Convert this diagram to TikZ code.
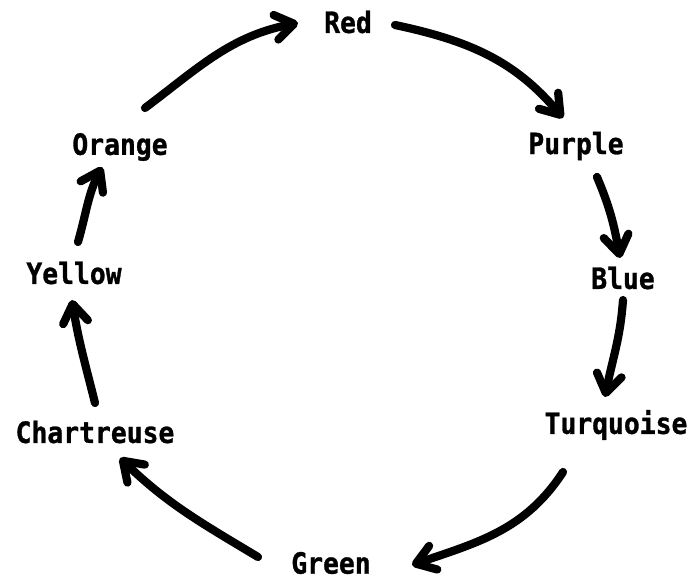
\documentclass[tikz,border=0pt]{standalone}
\usepackage{fontspec}
\newfontfamily\huefont[FakeStretch=0.9, BoldFeatures={FakeBold=1}]{DejaVu Sans Mono}
\usetikzlibrary{arrows.meta}

\begin{document}
\begin{tikzpicture}[
		x={(0.03cm,0cm)},
		y={(0cm,0.03cm)},
		hue/.style={inner sep=0pt, font=\huefont\bfseries\fontsize{25}{30}\selectfont},
		flow/.style={line width=7pt, line cap=round, -{Straight Barb[length=5.5mm, width=7.5mm, round]}}
	]

		\useasboundingbox (0,0) rectangle (688,581);

		% colour names round the wheel
		\node[hue] (red)        at (348,559) {Red};
		\node[hue] (purple)     at (576,435) {Purple};
		\node[hue] (blue)       at (623,303) {Blue};
		\node[hue] (turquoise)  at (616,156) {Turquoise};
		\node[hue] (green)      at (331,18)  {Green};
		\node[hue] (chartreuse) at (95,149)  {Chartreuse};
		\node[hue] (yellow)     at (74,308)  {Yellow};
		\node[hue] (orange)     at (120,434) {Orange};

		% arrows, clockwise
		\draw[flow] ([shift={(25,39)}]orange.center) to[out=37, in=191] ([shift={(-50,-1)}]red.center);
		\draw[flow] ([shift={(47,-3)}]red.center) to[out=-12, in=130] ([shift={(-13,28)}]purple.center);
		\draw[flow] ([shift={(21,-31)}]purple.center) to[out=-67, in=100] ([shift={(-3,20)}]blue.center);
		\draw[flow] ([shift={(0,-22)}]blue.center) to[out=-94, in=79] ([shift={(-11,28)}]turquoise.center);
		\draw[flow] ([shift={(-53,-47)}]turquoise.center) to[out=237, in=19] ([shift={(81,-2)}]green.center);
		\draw[flow] ([shift={(-73,6)}]green.center) to[out=149, in=-44] ([shift={(25,-26)}]chartreuse.center);
		\draw[flow] ([shift={(0,29)}]chartreuse.center) to[out=104, in=-81] ([shift={(-2,-27)}]yellow.center);
		\draw[flow] ([shift={(4,31)}]yellow.center) to[out=74, in=243] ([shift={(-18,-20)}]orange.center);

	\end{tikzpicture}
\end{document}
